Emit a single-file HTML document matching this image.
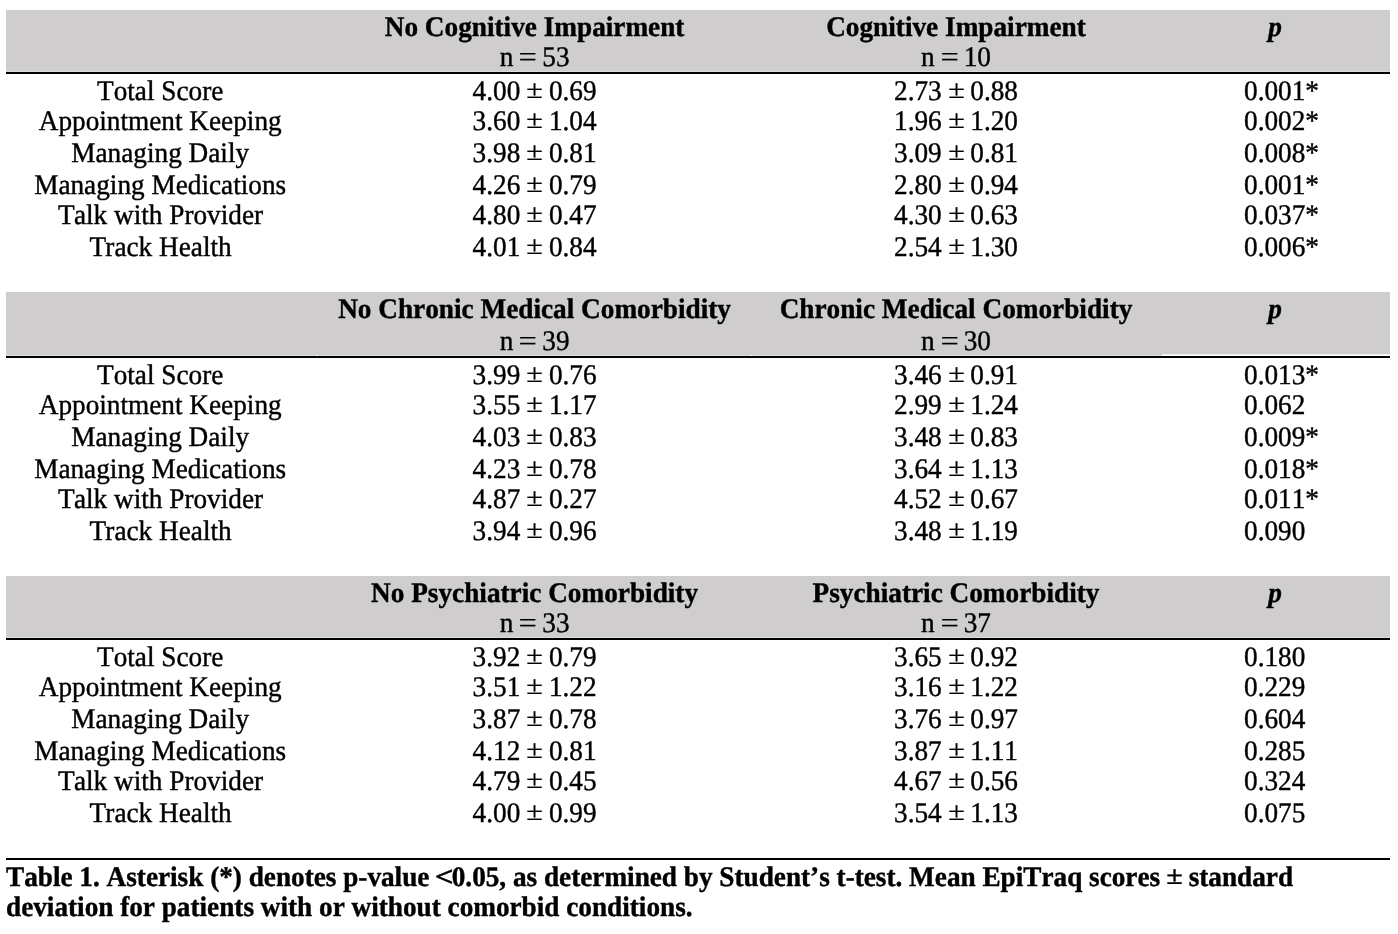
<!DOCTYPE html>
<html lang="en">
<head>
<meta charset="utf-8">
<title>Table 1</title>
<style>
html,body{margin:0;padding:0;background:#fff;}
body{width:1398px;height:934px;position:relative;overflow:hidden;font-family:"Liberation Serif","Times New Roman",serif;color:#000;}
.band{position:absolute;left:6px;width:1384px;background:#cfcdce;}
.lt{background:#dddcdd;}
.gap{position:absolute;background:#fff;}
.rule{position:absolute;left:6px;width:1384px;height:2px;background:#000;}
.t{position:absolute;font-size:27.25px;line-height:32px;height:32px;white-space:nowrap;font-kerning:none;text-rendering:geometricPrecision;-webkit-text-stroke:0.4px #000;transform:scaleY(1.04);transform-origin:0 25px;}
.cap{font-size:27.22px;}
.lt2{display:inline-block;transform:translateX(1.4px) scaleX(1.22);transform-origin:80% 50%;}
.cap .pm{font-weight:bold;}
.k{position:relative;left:0.8px;}
.eq{display:inline-block;-webkit-text-stroke:0.1px #000;transform:scaleX(1.2);}
.pm{display:inline-block;-webkit-text-stroke:0.25px #000;font-weight:normal;transform:translateY(-2.35px) scale(1.11,0.92);transform-origin:50% 25px;}
.c{text-align:center;}
.w1{width:320px;}
.w2{width:600px;}
.w3{width:200px;}
.l{text-align:left;}
.b{font-weight:bold;}
.i{font-style:italic;}
</style>
</head>
<body>
<div class="band" style="top:10px;height:61px"></div>
<div class="band lt" style="top:71px;height:1px"></div>
<div class="rule" style="top:72px"></div>
<div class="t c w2 b" style="left:234.6px;top:11px">No Cognitive Impairment</div>
<div class="t c w2" style="left:234.6px;top:41px">n <span class="eq">=</span> 53</div>
<div class="t c w2 b" style="left:656px;top:11px">Cognitive Impairment</div>
<div class="t c w2" style="left:656px;top:41px">n <span class="eq">=</span> 10</div>
<div class="t c w3 b i" style="left:1175px;top:11px">p</div>
<div class="t c w1" style="left:0.2px;top:75px">Total Score</div>
<div class="t c w2" style="left:234.6px;top:75px">4.00 <span class="pm">±</span> 0.69</div>
<div class="t c w2" style="left:656px;top:75px">2.73 <span class="pm">±</span> 0.88</div>
<div class="t l" style="left:1244px;top:75px">0.001*</div>
<div class="t c w1" style="left:0.2px;top:105px">Appointment Keeping</div>
<div class="t c w2" style="left:234.6px;top:105px">3.60 <span class="pm">±</span> 1.04</div>
<div class="t c w2" style="left:656px;top:105px">1.96 <span class="pm">±</span> 1.20</div>
<div class="t l" style="left:1244px;top:105px">0.002*</div>
<div class="t c w1" style="left:0.2px;top:137px">Managing Daily</div>
<div class="t c w2" style="left:234.6px;top:137px">3.98 <span class="pm">±</span> 0.81</div>
<div class="t c w2" style="left:656px;top:137px">3.09 <span class="pm">±</span> 0.81</div>
<div class="t l" style="left:1244px;top:137px">0.008*</div>
<div class="t c w1" style="left:0.2px;top:169px">Managing Medications</div>
<div class="t c w2" style="left:234.6px;top:169px">4.26 <span class="pm">±</span> 0.79</div>
<div class="t c w2" style="left:656px;top:169px">2.80 <span class="pm">±</span> 0.94</div>
<div class="t l" style="left:1244px;top:169px">0.001*</div>
<div class="t c w1" style="left:0.2px;top:199px"><span class="k">T</span>alk with Provider</div>
<div class="t c w2" style="left:234.6px;top:199px">4.80 <span class="pm">±</span> 0.47</div>
<div class="t c w2" style="left:656px;top:199px">4.30 <span class="pm">±</span> 0.63</div>
<div class="t l" style="left:1244px;top:199px">0.037*</div>
<div class="t c w1" style="left:0.2px;top:231px"><span class="k">T</span>rack Health</div>
<div class="t c w2" style="left:234.6px;top:231px">4.01 <span class="pm">±</span> 0.84</div>
<div class="t c w2" style="left:656px;top:231px">2.54 <span class="pm">±</span> 1.30</div>
<div class="t l" style="left:1244px;top:231px">0.006*</div>
<div class="band" style="top:292px;height:63px"></div>
<div class="band lt" style="top:355px;height:1px"></div>
<div class="gap" style="left:1162px;top:354px;width:228px;height:1px;background:#f2f1f2"></div>
<div class="gap" style="left:1162px;top:355px;width:228px;height:1px"></div>
<div class="gap" style="left:316px;top:355px;width:2px;height:1px"></div>
<div class="gap" style="left:750px;top:355px;width:2px;height:1px"></div>
<div class="rule" style="top:356px"></div>
<div class="t c w2 b" style="left:234.6px;top:293px">No Chronic Medical Comorbidity</div>
<div class="t c w2" style="left:234.6px;top:325px">n <span class="eq">=</span> 39</div>
<div class="t c w2 b" style="left:656px;top:293px">Chronic Medical Comorbidity</div>
<div class="t c w2" style="left:656px;top:325px">n <span class="eq">=</span> 30</div>
<div class="t c w3 b i" style="left:1175px;top:293px">p</div>
<div class="t c w1" style="left:0.2px;top:359px">Total Score</div>
<div class="t c w2" style="left:234.6px;top:359px">3.99 <span class="pm">±</span> 0.76</div>
<div class="t c w2" style="left:656px;top:359px">3.46 <span class="pm">±</span> 0.91</div>
<div class="t l" style="left:1244px;top:359px">0.013*</div>
<div class="t c w1" style="left:0.2px;top:389px">Appointment Keeping</div>
<div class="t c w2" style="left:234.6px;top:389px">3.55 <span class="pm">±</span> 1.17</div>
<div class="t c w2" style="left:656px;top:389px">2.99 <span class="pm">±</span> 1.24</div>
<div class="t l" style="left:1244px;top:389px">0.062</div>
<div class="t c w1" style="left:0.2px;top:421px">Managing Daily</div>
<div class="t c w2" style="left:234.6px;top:421px">4.03 <span class="pm">±</span> 0.83</div>
<div class="t c w2" style="left:656px;top:421px">3.48 <span class="pm">±</span> 0.83</div>
<div class="t l" style="left:1244px;top:421px">0.009*</div>
<div class="t c w1" style="left:0.2px;top:453px">Managing Medications</div>
<div class="t c w2" style="left:234.6px;top:453px">4.23 <span class="pm">±</span> 0.78</div>
<div class="t c w2" style="left:656px;top:453px">3.64 <span class="pm">±</span> 1.13</div>
<div class="t l" style="left:1244px;top:453px">0.018*</div>
<div class="t c w1" style="left:0.2px;top:483px"><span class="k">T</span>alk with Provider</div>
<div class="t c w2" style="left:234.6px;top:483px">4.87 <span class="pm">±</span> 0.27</div>
<div class="t c w2" style="left:656px;top:483px">4.52 <span class="pm">±</span> 0.67</div>
<div class="t l" style="left:1244px;top:483px">0.011*</div>
<div class="t c w1" style="left:0.2px;top:515px"><span class="k">T</span>rack Health</div>
<div class="t c w2" style="left:234.6px;top:515px">3.94 <span class="pm">±</span> 0.96</div>
<div class="t c w2" style="left:656px;top:515px">3.48 <span class="pm">±</span> 1.19</div>
<div class="t l" style="left:1244px;top:515px">0.090</div>
<div class="band" style="top:576px;height:61px"></div>
<div class="band lt" style="top:637px;height:1px"></div>
<div class="rule" style="top:638px"></div>
<div class="t c w2 b" style="left:234.6px;top:577px">No Psychiatric Comorbidity</div>
<div class="t c w2" style="left:234.6px;top:607px">n <span class="eq">=</span> 33</div>
<div class="t c w2 b" style="left:656px;top:577px">Psychiatric Comorbidity</div>
<div class="t c w2" style="left:656px;top:607px">n <span class="eq">=</span> 37</div>
<div class="t c w3 b i" style="left:1175px;top:577px">p</div>
<div class="t c w1" style="left:0.2px;top:641px">Total Score</div>
<div class="t c w2" style="left:234.6px;top:641px">3.92 <span class="pm">±</span> 0.79</div>
<div class="t c w2" style="left:656px;top:641px">3.65 <span class="pm">±</span> 0.92</div>
<div class="t l" style="left:1244px;top:641px">0.180</div>
<div class="t c w1" style="left:0.2px;top:671px">Appointment Keeping</div>
<div class="t c w2" style="left:234.6px;top:671px">3.51 <span class="pm">±</span> 1.22</div>
<div class="t c w2" style="left:656px;top:671px">3.16 <span class="pm">±</span> 1.22</div>
<div class="t l" style="left:1244px;top:671px">0.229</div>
<div class="t c w1" style="left:0.2px;top:703px">Managing Daily</div>
<div class="t c w2" style="left:234.6px;top:703px">3.87 <span class="pm">±</span> 0.78</div>
<div class="t c w2" style="left:656px;top:703px">3.76 <span class="pm">±</span> 0.97</div>
<div class="t l" style="left:1244px;top:703px">0.604</div>
<div class="t c w1" style="left:0.2px;top:735px">Managing Medications</div>
<div class="t c w2" style="left:234.6px;top:735px">4.12 <span class="pm">±</span> 0.81</div>
<div class="t c w2" style="left:656px;top:735px">3.87 <span class="pm">±</span> 1.11</div>
<div class="t l" style="left:1244px;top:735px">0.285</div>
<div class="t c w1" style="left:0.2px;top:765px"><span class="k">T</span>alk with Provider</div>
<div class="t c w2" style="left:234.6px;top:765px">4.79 <span class="pm">±</span> 0.45</div>
<div class="t c w2" style="left:656px;top:765px">4.67 <span class="pm">±</span> 0.56</div>
<div class="t l" style="left:1244px;top:765px">0.324</div>
<div class="t c w1" style="left:0.2px;top:797px"><span class="k">T</span>rack Health</div>
<div class="t c w2" style="left:234.6px;top:797px">4.00 <span class="pm">±</span> 0.99</div>
<div class="t c w2" style="left:656px;top:797px">3.54 <span class="pm">±</span> 1.13</div>
<div class="t l" style="left:1244px;top:797px">0.075</div>
<div class="rule" style="top:858px"></div>
<div class="t l b cap" style="left:6px;top:861px">Table 1. Asterisk (*) denotes p-value <span class="lt2">&lt;</span>0.05, as determined by Student’s t-test. Mean EpiTraq scores <span class="pm">±</span> standard</div>
<div class="t l b cap" style="left:6px;top:890.7px">deviation for patients with or without comorbid conditions.</div>
</body>
</html>
